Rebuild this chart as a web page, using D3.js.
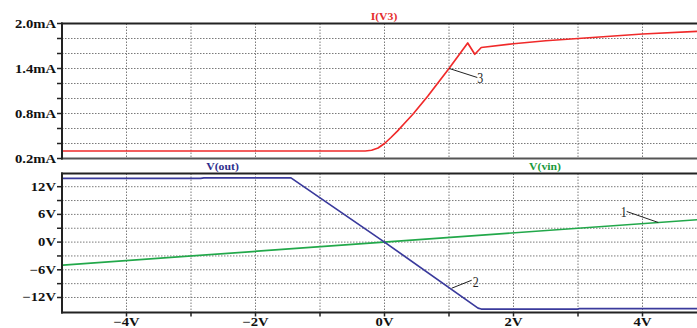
<!DOCTYPE html>
<html>
<head>
<meta charset="utf-8">
<script src="https://cdn.jsdelivr.net/npm/d3@7"></script>
<style>
  body { margin: 0; background: #fff; }
  svg { display: block; }
  text { font-family: "Liberation Serif", "DejaVu Serif", serif; }
</style>
</head>
<body>
<svg id="chart" width="697" height="328"></svg>
<script>
// sweep axis (V(vin) source) ticks
const sweepTicks = [-4, -3, -2, -1, 0, 1, 2, 3, 4]
const sweepLabels = ['\u22124V', '', '\u22122V', '', '0V', '', '2V', '', '4V']

// top pane: I(V3) in mA
const iTicks = [0.2, 0.4, 0.6, 0.8, 1.0, 1.2, 1.4, 1.6, 1.8, 2.0]
const iLabels = ['0.2mA', '', '', '0.8mA', '', '', '1.4mA', '', '', '2.0mA']
const iv3Vin = [-5, -0.3, -0.2, -0.1, 0, 0.1, 0.2, 0.3, 0.44, 0.67, 1.0, 1.29, 1.4, 1.5, 2.0, 2.5, 3.0, 3.5, 4.0, 5.0]
const iv3mA = [0.30, 0.30, 0.31, 0.34, 0.40, 0.48, 0.565, 0.66, 0.79, 1.03, 1.40, 1.74, 1.59, 1.68, 1.73, 1.77, 1.80, 1.83, 1.86, 1.90]

// bottom pane: voltages
const vTicks = [-12, -9, -6, -3, 0, 3, 6, 9, 12]
const vLabels = ['\u221212V', '', '\u22126V', '', '0V', '', '6V', '', '12V']
const voutVin = [-5, -2.85, -2.8, -1.45, 0, 1.45, 1.5, 3.0, 3.02, 5]
const voutV = [13.8, 13.8, 13.9, 13.9, 0, -14.3, -14.5, -14.5, -14.4, -14.4]
const vinVin = [-5, 5]
const vinV = [-5, 5]

const svg = d3.select('#chart')
const left = 62

let x = d3.scaleLinear().domain([-5, 5]).range([left, 707])
let yI = d3.scaleLinear().domain([0.2, 2.0]).range([158.5, 23.5])
let yV = d3.scaleLinear().domain([-15.25, 14.75]).range([312.5, 174])

const grid = '#7a7a7a'
const sx = 1.22

function label (g, px, py, str, size, color, anchor, weight, scaleX) {
  g.append('text')
    .attr('transform', `translate(${px},${py}) scale(${scaleX},1)`)
    .attr('text-anchor', anchor)
    .attr('font-size', size)
    .attr('font-weight', weight)
    .attr('fill', color)
    .text(str)
}

function pane (y, ticks, labels, top, bottom, bottomStroke) {
  const g = svg.append('g')
  // horizontal grid
  g.selectAll('line.hg').data(ticks).enter().append('line')
    .attr('x1', left).attr('x2', 697)
    .attr('y1', d => y(d)).attr('y2', d => y(d))
    .attr('stroke', grid).attr('stroke-dasharray', '1.5,1.5')
  // vertical grid
  g.selectAll('line.vg').data(sweepTicks).enter().append('line')
    .attr('x1', d => x(d)).attr('x2', d => x(d))
    .attr('y1', top).attr('y2', bottom)
    .attr('stroke', grid).attr('stroke-dasharray', '1.5,1.5')
  // frame
  g.append('line').attr('x1', left - 1).attr('x2', 697).attr('y1', top).attr('y2', top)
    .attr('stroke', '#222').attr('stroke-width', 2)
  g.append('line').attr('x1', left - 1).attr('x2', 697).attr('y1', bottom).attr('y2', bottom)
    .attr('stroke', bottomStroke).attr('stroke-width', 2)
  g.append('line').attr('x1', left).attr('x2', left).attr('y1', top - 1).attr('y2', bottom + 1)
    .attr('stroke', '#222').attr('stroke-width', 2)
  // y ticks + labels
  g.selectAll('line.yt').data(ticks).enter().append('line')
    .attr('x1', left - 5).attr('x2', left)
    .attr('y1', d => y(d)).attr('y2', d => y(d))
    .attr('stroke', '#222').attr('stroke-width', 1.5)
  ticks.forEach((t, i) => {
    if (labels[i]) label(g, left - 6, y(t) + 4, labels[i], 12, '#111', 'end', 'bold', sx)
  })
  return g
}

const topPane = pane(yI, iTicks, iLabels, 23.5, 158.5, '#555')
const botPane = pane(yV, vTicks, vLabels, 173.5, 312.5, '#222')

// x axis ticks under bottom pane
botPane.selectAll('line.xt').data(sweepTicks).enter().append('line')
  .attr('x1', d => x(d)).attr('x2', d => x(d))
  .attr('y1', 312.5).attr('y2', 316.5)
  .attr('stroke', '#222').attr('stroke-width', 1.5)
sweepTicks.forEach((t, i) => {
  if (sweepLabels[i]) label(botPane, x(t), 325.5, sweepLabels[i], 12, '#111', 'middle', 'bold', sx)
})

// traces
svg.append('defs').call(d => {
  d.append('clipPath').attr('id', 'clipTop').append('rect')
    .attr('x', left + 1).attr('y', 24).attr('width', 640).attr('height', 134)
  d.append('clipPath').attr('id', 'clipBot').append('rect')
    .attr('x', left + 1).attr('y', 174).attr('width', 640).attr('height', 138)
})

function trace (g, xs, ys, y, color, clip) {
  const line = d3.line().x(d => x(d[0])).y(d => y(d[1]))
  g.append('path')
    .datum(xs.map((v, i) => [v, ys[i]]))
    .attr('d', line)
    .attr('fill', 'none')
    .attr('stroke', color)
    .attr('stroke-width', 1.7)
    .attr('stroke-linejoin', 'round')
    .attr('clip-path', `url(#${clip})`)
}

const red = '#f02a2a'
const blue = '#3a3a9c'
const green = '#22a84a'

trace(topPane, iv3Vin, iv3mA, yI, red, 'clipTop')
trace(botPane, vinVin, vinV, yV, green, 'clipBot')
trace(botPane, voutVin, voutV, yV, blue, 'clipBot')

// trace titles
label(topPane, 384, 19.5, 'I(V3)', 10.5, '#e52e2e', 'middle', 'bold', 1.12)
label(botPane, 222.5, 170, 'V(out)', 10.5, '#2e2e8c', 'middle', 'bold', 1.12)
label(botPane, 545, 170, 'V(vin)', 10.5, '#1a9a3c', 'middle', 'bold', 1.12)

// numbered callouts: anchor on a trace, leader line, number
const callouts = [
  { n: '1', vin: 4.245, val: 4.245, y: yV, g: botPane, dx: -31.6, dy: -11, tx: -37.5, ty: -5.5 },
  { n: '2', vin: 1.042, val: -9.99, y: yV, g: botPane, dx: 20, dy: -8, tx: 21, ty: -1 },
  { n: '3', vin: 1.005, val: 1.40, y: yI, g: topPane, dx: 28, dy: 9, tx: 28, ty: 14.5 }
]
callouts.forEach(c => {
  const ax = x(c.vin)
  const ay = c.y(c.val)
  c.g.append('line')
    .attr('x1', ax).attr('y1', ay)
    .attr('x2', ax + c.dx).attr('y2', ay + c.dy)
    .attr('stroke', '#222').attr('stroke-width', 1)
  label(c.g, ax + c.tx, ay + c.ty, c.n, 14, '#222', 'start', 'normal', 0.85)
})
</script>
</body>
</html>
